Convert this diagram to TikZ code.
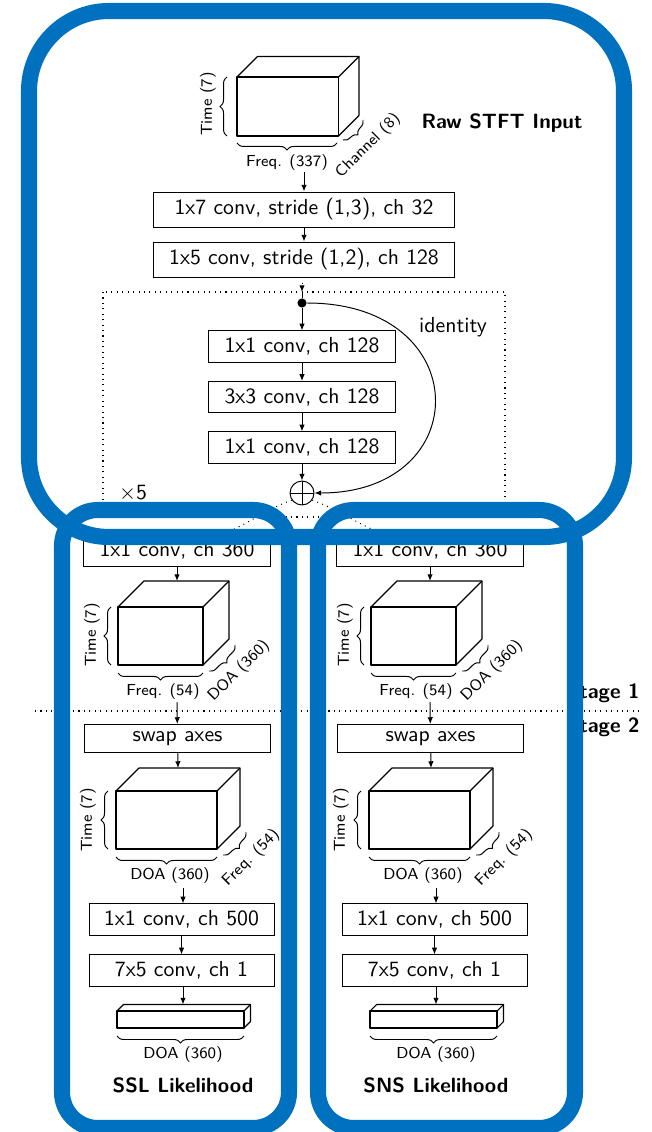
\documentclass[tikz,border=0pt]{standalone}
\usepackage{fontspec}
\usetikzlibrary{decorations.pathreplacing,arrows.meta,calc}
\definecolor{boxblue}{RGB}{0,113,190}
\newcommand{\boxcube}[5]{%
 \draw[cubeline] (#1,#2) rectangle (#3,#4);
 \draw[cubeline] (#1,#2) -- ++(#5,-#5) -- ($(#3,#2)+(#5,-#5)$) -- ($(#3,#4)+(#5,-#5)$) -- (#3,#4);
 \draw[cubeline] (#3,#2) -- ++(#5,-#5);}
\newcommand{\predcol}[3]{%
\begin{scope}[shift={(#2,0)}]
 \node[layer, minimum width=86pt] (#1a) at (177,550.5) {1x1 conv, ch 360};
 \boxcube{118}{607}{203}{665}{26}
 \coordinate (#1ta) at (177,581);
 \draw[arr] (#1a) -- (#1ta);
 \draw[brc] (111,665) -- (111,607);
 \node[small, rotate=90] (#1tA) at (92,635) {Time (7)};
 \draw[brc] (203,673) -- (118,673);
 \node[small] (#1fA) at (163,692) {Freq. (54)};
 \draw[brc] (235,645) -- (209,671);
 \node[small, rotate=45] (#1dA) at (239,671) {DOA (360)};
 \coordinate (#1fa) at (177,702);
 \node[layer, minimum width=86pt, minimum height=12.9pt] (#1s) at (177.5,738.5) {swap axes};
 \draw[arr] (#1fa) -- (#1s);
 \coordinate (#1tb) at (178,768);
 \draw[arr] (#1s) -- (#1tb);
 \boxcube{116}{791}{217}{849}{23}
 \draw[brc] (108,849) -- (108,791);
 \node[small, rotate=90] (#1tB) at (88,820) {Time (7)};
 \draw[brc] (217,857) -- (116,857);
 \node[small] (#1dB) at (170,876) {DOA (360)};
 \draw[brc] (246,832) -- (223,855);
 \node[small, rotate=45] (#1fB) at (251,858) {Freq. (54)};
 \coordinate (#1fb) at (183,888);
 \node[layer, minimum width=85.1pt] (#1c) at (181.5,919.5) {1x1 conv, ch 500};
 \draw[arr] (#1fb) -- (#1fb |- #1c.north);
 \node[layer, minimum width=85.1pt] (#1d) at (181.5,970.5) {7x5 conv, ch 1};
 \draw[arr] (#1c) -- (#1d);
 \coordinate (#1tc) at (183,1004.5);
 \draw[arr] (#1tc |- #1d.south) -- (#1tc);
 \boxcube{117}{1011}{244}{1028}{6.5}
 \draw[brc] (244,1036) -- (117,1036);
 \node[small] (#1dC) at (183,1055) {DOA (360)};
 \node[title] (#1t) at (183,1085) {#3};
\end{scope}}
\begin{document}
\begin{tikzpicture}[x=0.46pt,y=-0.46pt,
 lbl/.style={font=\sffamily\fontsize{10}{12}\selectfont, inner sep=0pt},
 layer/.style={draw, line width=0.45pt, font=\sffamily\fontsize{10}{12}\selectfont, inner sep=0pt, minimum height=14.3pt},
 small/.style={font=\sffamily\fontsize{7.3}{8.5}\selectfont, inner sep=0pt},
 title/.style={font=\sffamily\bfseries\fontsize{9.5}{11}\selectfont, inner sep=0pt},
 arr/.style={-{Latex[length=3.1pt,width=2.5pt]}, line width=0.45pt},
 brc/.style={decorate, decoration={brace, amplitude=3.2pt}, line width=0.45pt},
 frame/.style={draw=boxblue, line width=7.4pt},
 cubeline/.style={line width=0.5pt, line join=round}]
\fill[white] (0,0) rectangle (652,1132);
\useasboundingbox (0,0) rectangle (652,1132);

% input tensor
\boxcube{237}{77}{338.5}{136}{20.5}
\draw[brc] (227,136) -- (227,77);
\node[small, rotate=90] (tin) at (208,104) {Time (7)};
\draw[brc] (337,143) -- (237,143);
\node[small] (fin) at (287,163) {Freq. (337)};
\draw[brc] (363,120) -- (343,140);
\node[small, rotate=45] (chin) at (368,146) {Channel (8)};
\node[title] (raw) at (502,123) {Raw STFT Input};

% stem
\coordinate (inq) at (304,172);
\node[layer, minimum width=138.5pt, minimum height=16.1pt] (c1) at (304,209.5) {1x7 conv, stride (1,3), ch 32};
\node[layer, minimum width=138.5pt, minimum height=16.1pt] (c2) at (304,259.5) {1x5 conv, stride (1,2), ch 128};
\draw[arr] (inq) -- (c1);
\draw[arr] (c1) -- (c2);

% residual block
\draw[dotted, line width=0.5pt] (103,292) rectangle (505,517);
\coordinate (rin) at (302,292);
\node[circle, fill, inner sep=0pt, minimum size=4.2pt] (dot) at (302,303) {};
\draw[arr, dotted] (c2.south -| rin) -- (rin);
\draw[line width=0.45pt] (rin) -- (dot);
\node[layer, minimum width=85.6pt] (r1) at (302,346.5) {1x1 conv, ch 128};
\node[layer, minimum width=85.6pt] (r2) at (302,397) {3x3 conv, ch 128};
\node[layer, minimum width=85.6pt] (r3) at (302,447.5) {1x1 conv, ch 128};
\node[circle, draw, line width=0.45pt, minimum size=11pt, inner sep=0pt] (plus) at (302,493) {};
\draw[line width=0.45pt] (plus.north) -- (plus.south) (plus.west) -- (plus.east);
\draw[arr] (dot) -- (r1);
\draw[arr] (r1) -- (r2);
\draw[arr] (r2) -- (r3);
\draw[arr] (r3) -- (plus);
\draw[arr] (dot) .. controls (476,303) and (476,493) .. (plus);
\node[lbl] (idl) at (453,327) {identity};
\node[lbl] (x5) at (133,493) {$\times$5};

% stage separator
\draw[dotted, line width=0.5pt] (35,711) -- (640,711);
\node[title, anchor=east] (s1) at (640,693) {Stage 1};
\node[title, anchor=east] (s2) at (640,727) {Stage 2};

% two heads
\predcol{L}{0}{SSL Likelihood}
\predcol{R}{253}{SNS Likelihood}

\coordinate (la) at ($(La.north)+(43,0)$);
\coordinate (ra) at ($(Ra.north)+(-44,0)$);
\draw[arr, dotted] (plus.215) .. controls +(-28,10) and +(28,-10) .. (la);
\draw[arr, dotted] (plus.325) .. controls +(28,10) and +(-28,-10) .. (ra);

% blue frames
\draw[frame, rounded corners=36.8pt] (29,11) rectangle (624,537);
\draw[frame, rounded corners=16.5pt] (62,510) rectangle (289,1128);
\draw[frame, rounded corners=16.5pt] (318,510) rectangle (575,1128);
\end{tikzpicture}
\end{document}
